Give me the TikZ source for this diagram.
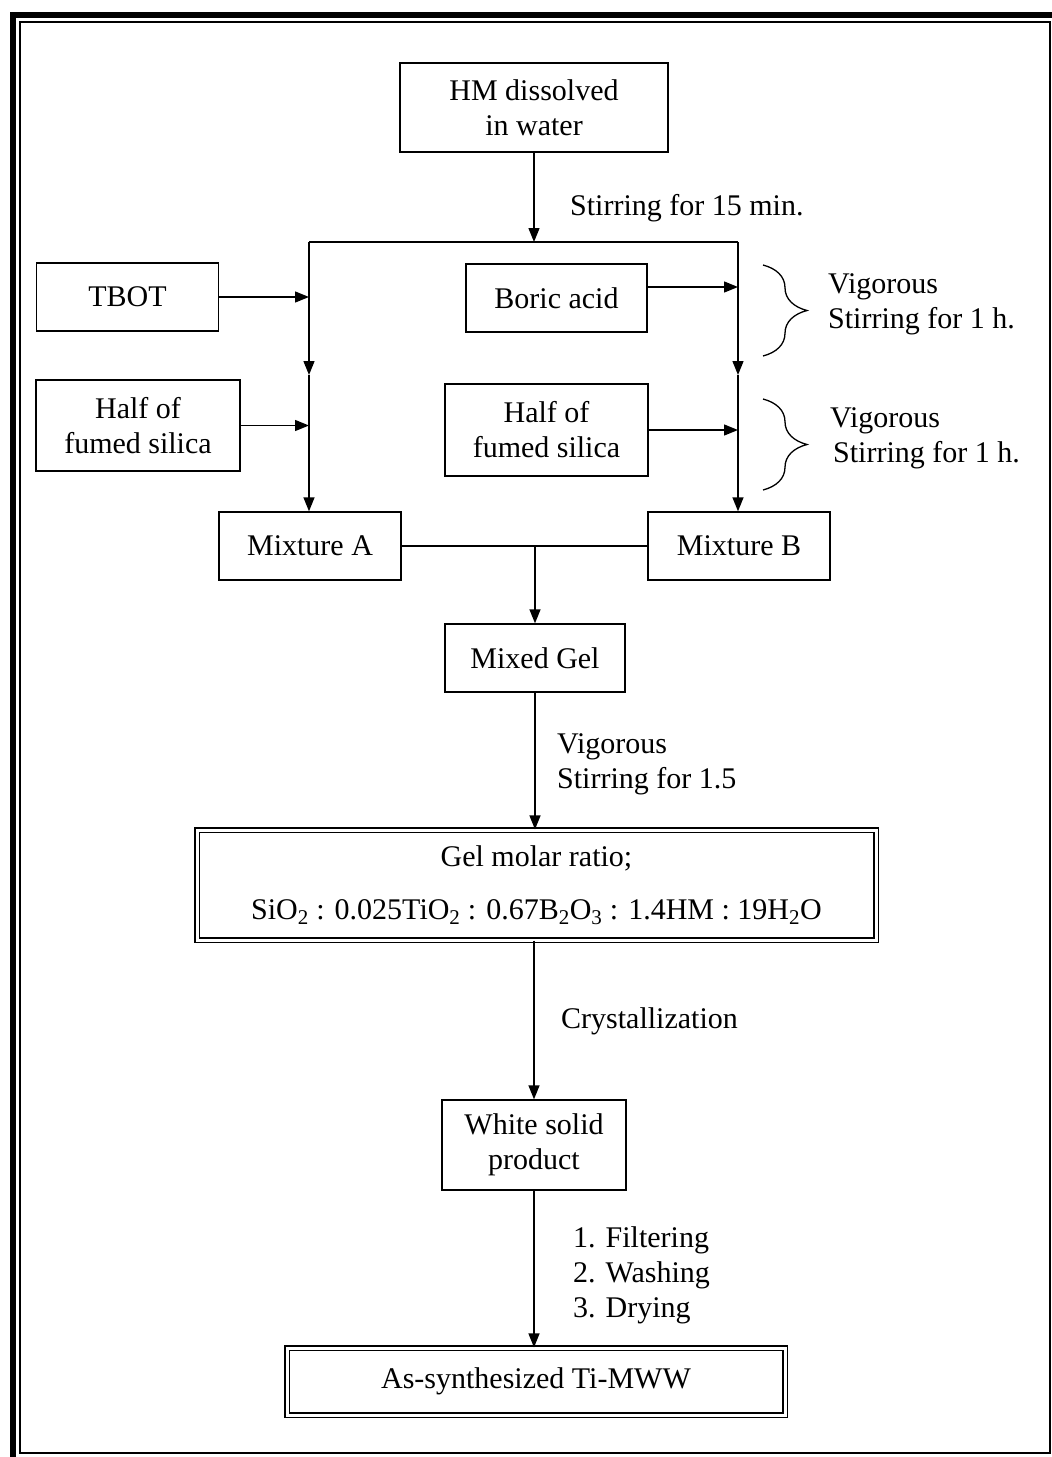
\documentclass[tikz,border=0pt]{standalone}
\usepackage{fontspec}
\setmainfont{Liberation Serif}
\usetikzlibrary{arrows.meta,decorations.pathreplacing,calc}
\begin{document}
\begin{tikzpicture}[x=1pt,y=-1pt,
  every node/.style={font=\fontsize{30}{35}\selectfont},
  box/.style={draw,line width=1.4pt,inner sep=0pt,align=center},
  dbox/.style={draw,line width=1.2pt,double=white,double distance=3pt,inner sep=0pt,align=center},
  lbl/.style={inner sep=0pt,align=left,anchor=north west},
  conn/.style={line width=1.4pt},
  arr/.style={line width=1.4pt,-{Triangle[length=14pt,width=11pt]}},
  brc/.style={line width=1.3pt,decorate,decoration={brace,amplitude=44pt,aspect=0.5}}]
\useasboundingbox (0,0) rectangle (1052,1457);
% frame
\draw[line width=6pt] (13,1457) -- (13,15) -- (1052,15);
\draw[line width=1.5pt] (20,22) rectangle (1050,1453);
% boxes
\node[box,minimum width=268pt,minimum height=89pt] (hm) at (534,107.5) {HM dissolved\\in water};
\node[box,minimum width=182pt,minimum height=68pt] (tbot) at (127.5,297) {TBOT};
\node[box,minimum width=204pt,minimum height=91pt] (halfL) at (138,425.5) {Half of\\fumed silica};
\node[box,minimum width=181pt,minimum height=68pt] (boric) at (556.5,298) {Boric acid};
\node[box,minimum width=203pt,minimum height=92pt] (halfR) at (546.5,430) {Half of\\fumed silica};
\node[box,minimum width=182pt,minimum height=68pt] (mixA) at (310,546) {Mixture A};
\node[box,minimum width=182pt,minimum height=68pt] (mixB) at (739,546) {Mixture B};
\node[box,minimum width=180pt,minimum height=68pt] (gel) at (535,658) {Mixed Gel};
\node[dbox,minimum width=679pt,minimum height=110pt] (ratio) at (536.5,885) {Gel molar ratio;\\[18pt]SiO\textsubscript{2} : 0.025TiO\textsubscript{2} : 0.67B\textsubscript{2}O\textsubscript{3} : 1.4HM : 19H\textsubscript{2}O};
\node[box,minimum width=184pt,minimum height=90pt] (white) at (534,1145) {White solid\\product};
\node[dbox,minimum width=498pt,minimum height=67pt] (final) at (536,1381.5) {As-synthesized Ti-MWW};
% bus
\coordinate (busL) at (309,242);
\coordinate (busR) at (738,242);
\coordinate (busM) at (534,242);
\coordinate (midL) at (309,375);
\coordinate (midR) at (738,375);
\draw[arr] (hm) -- (busM);
\draw[conn] (busL) -- (busR);
\draw[arr] (busL) -- (midL);
\draw[arr] (midL) -- (midL |- mixA.north);
\draw[arr] (busR) -- (midR);
\draw[arr] (midR) -- (midR |- mixB.north);
\draw[arr] (tbot.east) -- (tbot.east -| busL);
\draw[arr] (halfL.east) -- (halfL.east -| busL);
\draw[arr] ([yshift=11pt]boric.east) -- ([yshift=11pt]boric.east -| busR);
\draw[arr] (halfR.east) -- (halfR.east -| busR);
\draw[conn] (mixA.east) -- (mixA.east -| mixB.west);
\draw[arr] (gel.north |- mixA.east) -- (gel.north);
\draw[arr] (gel.south) -- (gel.south |- ratio.north);
\draw[arr] (white.north |- ratio.south) -- (white.north);
\draw[arr] (white.south) -- (white.south |- final.north);
% braces
\draw[brc] (763,265) -- (763,356);
\draw[brc] (763,399) -- (763,490);
% labels
\node[lbl] (l15) at (570,194) {Stirring for 15 min.};
\node[lbl] (v1) at (828,273.5) {Vigorous\\Stirring for 1 h.};
\node[lbl] (v2) at (830,407.5) {Vigorous\\\hspace*{3pt}Stirring for 1 h.};
\node[lbl] (v3) at (557,733.5) {Vigorous\\Stirring for 1.5};
\node[lbl] (cr) at (561,1007) {Crystallization};
\node[lbl] (fw) at (573,1226) {1. Filtering\\2. Washing\\3. Drying};
\end{tikzpicture}
\end{document}
